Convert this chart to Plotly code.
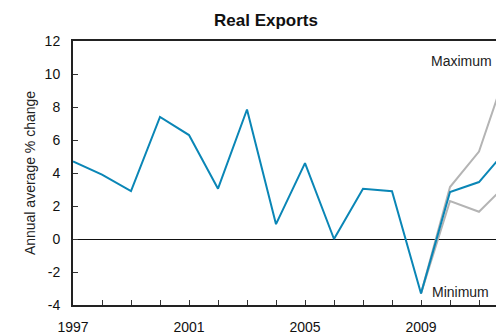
import plotly.graph_objects as go

years = list(range(1997, 2013))
exports = [4.7, 3.9, 2.9, 7.4, 6.3, 3.05, 7.85, 0.9, 4.6, 0.0, 3.05, 2.9, -3.3, 2.85, 3.45, 5.5]
fc_years = [2009, 2010, 2011, 2012]
fc_max = [-3.3, 3.15, 5.3, 10.5]
fc_min = [-3.3, 2.3, 1.65, 3.4]
tick_years = list(range(1997, 2013))
tick_text = [str(y) if (y - 1997) % 4 == 0 else "" for y in tick_years]
y_ticks = [-4, -2, 0, 2, 4, 6, 8, 10, 12]
y_tick_text = [str(v) for v in y_ticks]

BLUE = "#0A86B6"
GREY = "#B4B4B4"
FONT = "Liberation Sans, Arial, sans-serif"

fig = go.Figure()
fig.add_trace(go.Scatter(x=fc_years, y=fc_max, mode="lines",
                         line=dict(color=GREY, width=2), showlegend=False))
fig.add_trace(go.Scatter(x=fc_years, y=fc_min, mode="lines",
                         line=dict(color=GREY, width=2), showlegend=False))
fig.add_trace(go.Scatter(x=years, y=exports, mode="lines",
                         line=dict(color=BLUE, width=2), showlegend=False))

fig.add_annotation(x=0.996, xref="paper", y=10.8, yref="y", text="Maximum",
                   showarrow=False, xanchor="right", yanchor="middle",
                   font=dict(size=14, color="#222"))
fig.add_annotation(x=0.988, xref="paper", y=-3.2, yref="y", text="Minimum",
                   showarrow=False, xanchor="right", yanchor="middle",
                   font=dict(size=14, color="#222"))

fig.update_layout(
    width=496, height=334,
    margin=dict(l=73, r=0, t=41, b=29, autoexpand=False),
    paper_bgcolor="white", plot_bgcolor="white",
    font=dict(family=FONT, size=14, color="#111"),
    title=dict(text="<b>Real Exports</b>", x=266/496, xanchor="center",
               y=1 - 20/334, yanchor="middle", font=dict(size=17, color="#111")),
    xaxis=dict(range=[1997, 1997 + (496 - 73) / 29.0], tickmode="array",
               tickvals=tick_years, ticktext=tick_text, ticks="inside",
               ticklen=5, tickcolor="#333", showline=True, linecolor="#222",
               linewidth=2, mirror=True, showgrid=False, zeroline=False,
               ticklabelstandoff=8, automargin=False),
    yaxis=dict(range=[-4, 12], tickmode="array", tickvals=y_ticks,
               ticktext=y_tick_text, ticks="inside", ticklen=5,
               tickcolor="#333", showline=True, linecolor="#222", linewidth=2,
               showgrid=False, zeroline=True, zerolinecolor="#111",
               zerolinewidth=1, ticklabelstandoff=8, automargin=False,
               title=dict(text="Annual average % change", standoff=6,
                          font=dict(size=14, color="#222"))),
)

fig.write_html("out.html", config={"displayModeBar": False},
               post_script="document.body.style.margin='0';document.body.style.overflow='hidden';")
